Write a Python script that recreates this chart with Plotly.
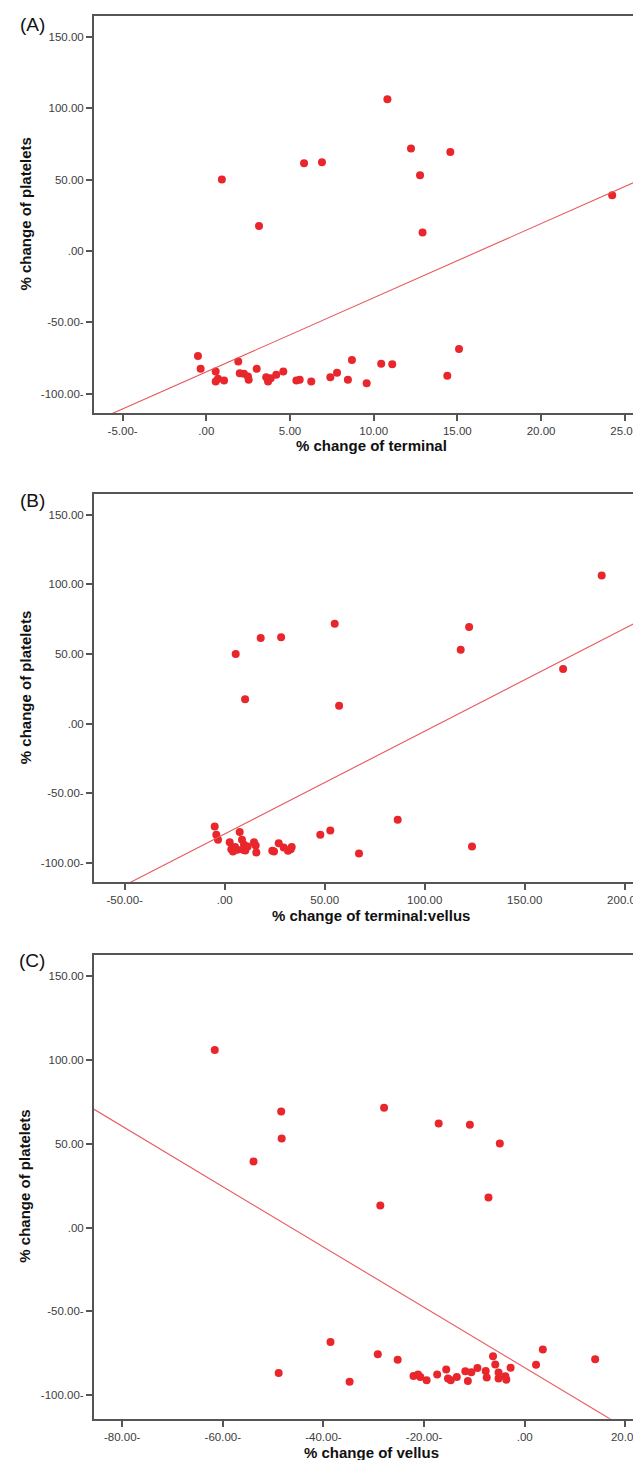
import plotly.graph_objects as go

# ---------------- data ----------------
# Panel A: % change of terminal vs % change of platelets
a_terminal = [10.82, 12.23, 14.58, 5.84, 6.91, 0.93, 12.77, 3.15, 12.92, 24.25,
              -0.50, -0.34, 0.56, 0.56, 0.70, 1.06, 1.91, 2.00, 2.25, 2.49,
              2.53, 3.01, 3.58, 3.69, 3.85, 4.18, 4.60, 5.38, 5.58, 6.27,
              7.41, 7.81, 8.46, 8.70, 9.58, 10.45, 11.11, 14.40, 15.10]
a_platelets = [106.2, 71.7, 69.3, 61.4, 62.1, 50.0, 53.0, 17.5, 12.9, 39.0,
               -73.5, -82.6, -84.5, -91.5, -89.6, -90.8, -77.5, -85.6, -86.1, -88.0,
               -90.3, -82.6, -88.4, -91.5, -89.1, -86.8, -84.5, -90.8, -90.3, -91.5,
               -88.4, -85.4, -90.3, -76.3, -92.6, -79.1, -79.3, -87.5, -68.6]
a_fit = [-84.7, 5.19]          # intercept, slope
a_xticks = [-5, 0, 5, 10, 15, 20, 25]

# Panel B: % change of terminal:vellus vs % change of platelets
b_ratio = [188.5, 5.5, 18.0, 28.2, 55.0, 118.0, 122.2, 169.2, 10.2, 57.2,
           -5.0, -4.2, -3.35, 7.5, 2.5, 3.3, 4.15, 6.3, 8.65, 9.65,
           9.15, 10.3, 14.65, 15.5, 15.8, 23.8, 24.65, 27.0, 29.5, 31.65,
           33.0, 47.8, 52.8, 67.15, 86.5, 123.65, 5.2, 11.5, 33.5]
b_platelets = [106.4, 50.0, 61.4, 62.1, 71.7, 53.0, 69.3, 39.2, 17.5, 12.9,
               -73.7, -79.7, -83.3, -77.8, -85.0, -90.0, -91.7, -90.5, -83.3, -86.9,
               -90.5, -91.0, -85.0, -87.4, -92.4, -91.2, -91.7, -85.7, -88.8, -91.2,
               -90.0, -79.7, -76.6, -93.1, -69.0, -88.1, -88.5, -88.2, -88.5]
b_fit = [-79.1, 0.737]
b_xticks = [-50, 0, 50, 100, 150, 200]

# Panel C: % change of vellus vs % change of platelets
c_vellus = [-61.6, -27.95, -48.4, -48.3, -53.9, -17.1, -10.9, -4.95, -7.2, -28.7,
            -38.6, -48.9, -34.8, -29.2, -25.25, -22.1, -21.2, -20.75, -19.5, -17.4,
            -15.6, -15.25, -14.7, -13.5, -11.8, -11.3, -10.6, -9.4, -7.75, -7.55,
            -6.3, -5.85, -5.2, -5.2, -3.85, -3.65, -2.8, 2.25, 3.6, 14.0]
c_platelets = [105.8, 71.4, 69.2, 53.1, 39.4, 62.1, 61.3, 50.1, 17.9, 13.1,
               -68.2, -86.7, -91.9, -75.5, -78.8, -88.5, -87.7, -89.1, -91.1, -87.7,
               -84.7, -90.1, -91.1, -89.1, -85.7, -91.5, -86.3, -83.7, -85.5, -89.5,
               -76.7, -81.7, -86.5, -90.1, -88.7, -90.7, -83.6, -81.9, -72.8, -78.5]
c_fit = [-83.6, -1.80]
c_xticks = [-80, -60, -40, -20, 0, 20]

y_ticks = [-100, -50, 0, 50, 100, 150]

panel_labels = ["(A)", "(B)", "(C)"]
x_titles = ["% change of terminal", "% change of terminal:vellus", "% change of vellus"]
y_title = "% change of platelets"

# ---------------- layout geometry ----------------
W, H = 641, 1460
LEFT = 86
panels = [
    # (top px, bottom px, xrange, yrange, title y px, label y px)
    dict(top=8, bottom=405, xr=[-6.71, 26.45], yr=[-113.5, 164.5], ty=437, ly=17),
    dict(top=486, bottom=874.3, xr=[-65.35, 212.15], yr=[-113.8, 164.8], ty=907, ly=492),
    dict(top=946.7, bottom=1410.7, xr=[-85.6, 24.7], yr=[-114.0, 162.7], ty=1444, ly=952),
]

def fmt(v):
    s = f"{abs(v):.2f}"
    if s.startswith("0"):
        s = s[1:]
    return f"-{s}-" if v < 0 else s

def py(p):
    return 1 - p / H

RED = "#e8262c"
LINE_RED = "#e8575c"
AX = "#555555"
FONT = "Liberation Sans, Arial, sans-serif"

data = [
    (a_terminal, a_platelets, a_fit, a_xticks),
    (b_ratio, b_platelets, b_fit, b_xticks),
    (c_vellus, c_platelets, c_fit, c_xticks),
]

fig = go.Figure()
annotations = []
layout = {}
for i, ((xs, ys, fit, xt), g) in enumerate(zip(data, panels)):
    n = "" if i == 0 else str(i + 1)
    xa, ya = "x" + n, "y" + n
    fig.add_trace(go.Scatter(x=xs, y=ys, mode="markers", xaxis=xa, yaxis=ya,
                             marker=dict(color=RED, size=8, line=dict(width=0)),
                             showlegend=False, hoverinfo="x+y"))
    fx = list(g["xr"])
    fy = [fit[0] + fit[1] * v for v in fx]
    fig.add_trace(go.Scatter(x=fx, y=fy, mode="lines", xaxis=xa, yaxis=ya,
                             line=dict(color=LINE_RED, width=1.1),
                             showlegend=False, hoverinfo="skip"))
    common = dict(showline=True, linecolor=AX, linewidth=2, ticks="outside",
                  ticklen=6, tickwidth=1.5, tickcolor=AX, showgrid=False,
                  zeroline=False, tickfont=dict(family=FONT, size=11.5, color="#3c3c3c"))
    layout["xaxis" + n] = dict(domain=[LEFT / W, 1], range=g["xr"], anchor=ya,
                               tickvals=xt, ticktext=[fmt(t) for t in xt],
                               mirror=True, **common)
    layout["yaxis" + n] = dict(domain=[py(g["bottom"]), py(g["top"])], range=g["yr"],
                               anchor=xa, tickvals=y_ticks,
                               ticktext=[fmt(t) for t in y_ticks], **common)
    annotations.append(dict(text="<b>" + x_titles[i] + "</b>", xref="paper", yref="paper",
                            x=(LEFT / W + 1) / 2, y=py(g["ty"]), showarrow=False,
                            xanchor="center", yanchor="middle",
                            font=dict(family=FONT, size=15, color="#111")))
    annotations.append(dict(text="<b>" + y_title + "</b>", xref="paper", yref="paper",
                            x=17 / W, y=py((g["top"] + g["bottom"]) / 2), showarrow=False,
                            textangle=-90, xanchor="center", yanchor="middle",
                            font=dict(family=FONT, size=15, color="#111")))
    annotations.append(dict(text=panel_labels[i], xref="paper", yref="paper",
                            x=24 / W, y=py(g["ly"]), showarrow=False,
                            xanchor="center", yanchor="middle",
                            font=dict(family=FONT, size=19, color="#111")))

fig.update_layout(width=W, height=H, margin=dict(l=0, r=0, t=0, b=0),
                  paper_bgcolor="white", plot_bgcolor="white",
                  annotations=annotations, **layout)

fig.write_html("out.html")
